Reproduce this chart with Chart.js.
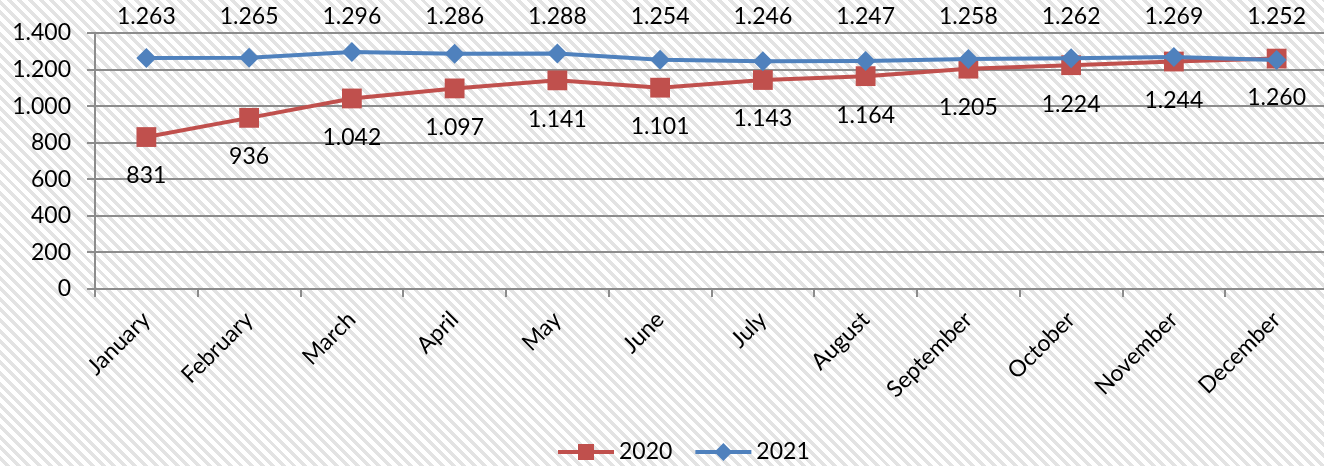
<!DOCTYPE html>
<html>
<head>
<meta charset="utf-8">
<script src="https://cdn.jsdelivr.net/npm/chart.js@4"></script>
<style>
  html, body { margin: 0; padding: 0; overflow: hidden; }
  body {
    width: 1324px; height: 466px;
    background: repeating-linear-gradient(45deg, #ffffff 0 4px, #e3e3e3 4px 7.5px);
  }
  #wrap { width: 1342px; height: 466px; }
</style>
</head>
<body>
<div id="wrap"><canvas id="chart" width="1342" height="466"></canvas></div>
<script>
const months = ['January','February','March','April','May','June','July','August','September','October','November','December'];
const v2020 = [831, 936, 1042, 1097, 1141, 1101, 1143, 1164, 1205, 1224, 1244, 1260];
const v2021 = [1263, 1265, 1296, 1286, 1288, 1254, 1246, 1247, 1258, 1262, 1269, 1252];
const yTicks = [0, 200, 400, 600, 800, 1000, 1200, 1400];

const C = {
  red:  '#c0504d',
  blue: '#4f81bd',
  grid: '#8c8c8c',
  ink:  '#000000',
};
const FONT = 'Lato, "Open Sans", sans-serif';
const FS = 23;

// dot as thousands separator, like the source
function fmt(v){ return String(v).replace(/\B(?=(\d{3})+(?!\d))/g, '.'); }

// value labels: 2021 above the plot, 2020 below its points
const valueLabels = {
  id: 'valueLabels',
  afterDatasetsDraw(chart){
    const ctx = chart.ctx;
    ctx.save();
    ctx.font = FS + 'px ' + FONT;
    ctx.fillStyle = C.ink;
    ctx.textAlign = 'center';
    ctx.textBaseline = 'middle';
    chart.data.datasets.forEach((ds, i) => {
      const meta = chart.getDatasetMeta(i);
      meta.data.forEach((pt, j) => {
        const y = ds.label === '2021' ? chart.chartArea.top - 16 : pt.y + 39;
        ctx.fillText(fmt(ds.data[j]), pt.x, y);
      });
    });
    ctx.restore();
  }
};

// legend: line with marker, then the series name
const lineLegend = {
  id: 'lineLegend',
  afterDraw(chart){
    const ctx = chart.ctx;
    const items = [
      { text: '2020', color: C.red,  shape: 'rect' },
      { text: '2021', color: C.blue, shape: 'diamond' },
    ];
    let x = 558, y = 452;
    ctx.save();
    ctx.font = FS + 'px ' + FONT;
    ctx.textBaseline = 'middle';
    items.forEach(it => {
      ctx.strokeStyle = it.color;
      ctx.fillStyle = it.color;
      ctx.lineWidth = 4;
      ctx.beginPath(); ctx.moveTo(x, y); ctx.lineTo(x + 56, y); ctx.stroke();
      const cx = x + 28;
      ctx.beginPath();
      if (it.shape === 'rect') ctx.rect(cx - 8, y - 8, 16, 16);
      else { ctx.moveTo(cx - 9, y); ctx.lineTo(cx, y - 9); ctx.lineTo(cx + 9, y); ctx.lineTo(cx, y + 9); ctx.closePath(); }
      ctx.fill();
      ctx.fillStyle = C.ink;
      ctx.textAlign = 'left';
      ctx.fillText(it.text, x + 61, y);
      x += 61 + ctx.measureText(it.text).width + 23;
    });
    ctx.restore();
  }
};

new Chart(document.getElementById('chart'), {
  type: 'line',
  data: {
    labels: months,
    datasets: [
      {
        label: '2021', data: v2021,
        borderColor: C.blue, backgroundColor: C.blue,
        borderWidth: 4, pointStyle: 'rectRot', pointRadius: 10, pointBorderWidth: 0,
        tension: 0,
      },
      {
        label: '2020', data: v2020,
        borderColor: C.red, backgroundColor: C.red,
        borderWidth: 4, pointStyle: 'rect', pointRadius: 14, pointBorderWidth: 0,
        tension: 0,
      },
    ]
  },
  options: {
    responsive: false,
    animation: false,
    layout: { padding: { top: 33, right: 6, left: 0, bottom: 0 } },
    plugins: { legend: { display: false }, tooltip: { enabled: false } },
    scales: {
      x: {
        offset: true,
        grid: { offset: true, drawOnChartArea: false, drawTicks: true, tickLength: 8, color: C.grid, lineWidth: 2 },
        border: { color: C.grid, width: 2 },
        ticks: { color: C.ink, font: { family: FONT, size: FS }, minRotation: 45, maxRotation: 45, padding: 9, autoSkip: false },
        afterFit: s => { s.height = 466 - 289; },
      },
      y: {
        min: 0, max: 1400,
        afterBuildTicks: s => { s.ticks = yTicks.map(v => ({ value: v })); },
        grid: { color: C.grid, lineWidth: 2, tickLength: 8 },
        border: { color: C.grid, width: 2 },
        ticks: { color: C.ink, font: { family: FONT, size: FS }, padding: 16, callback: v => fmt(v) },
        afterFit: s => { s.width = 95; },
      },
    },
  },
  plugins: [valueLabels, lineLegend],
});
</script>
</body>
</html>
